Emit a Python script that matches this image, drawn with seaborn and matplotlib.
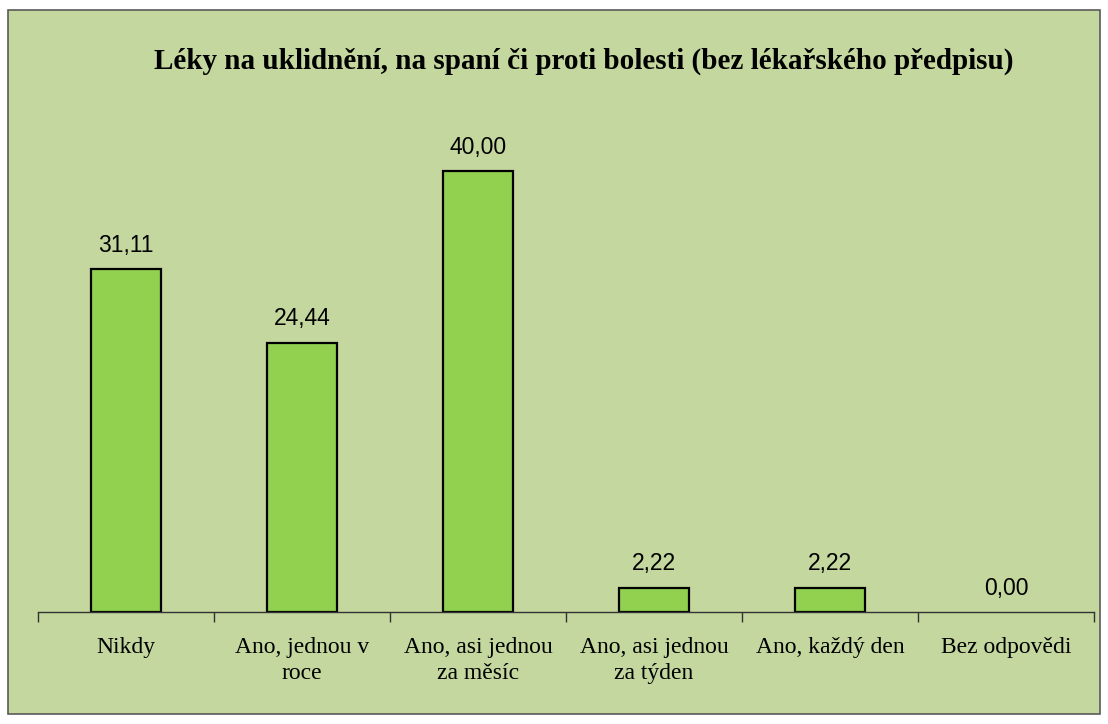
import matplotlib
matplotlib.use("Agg")
import matplotlib.pyplot as plt
import seaborn as sns
import pandas as pd
from matplotlib.patches import Rectangle

kategorie = ["Nikdy", "Ano, jednou v\nroce", "Ano, asi jednou\nza měsíc",
             "Ano, asi jednou\nza týden", "Ano, každý den", "Bez odpovědi"]
hodnoty = [31.11, 24.44, 40.00, 2.22, 2.22, 0.00]
titulek = "Léky na uklidnění, na spaní či proti bolesti (bez lékařského předpisu)"

df = pd.DataFrame({"kategorie": kategorie, "hodnota": hodnoty})

sns.set_style("white")
plt.rcParams["font.family"] = ["Liberation Serif", "DejaVu Serif"]
plt.rcParams["text.color"] = "black"
plt.rcParams["xtick.color"] = "black"

fig = plt.figure(figsize=(11.08, 7.24), dpi=100)
fig.patch.set_facecolor("white")

# pozadi grafu (jako v Excelu)
W, H = 1108, 724
fig.patches.append(Rectangle((8 / W, 10 / H), 1092 / W, 704 / H, transform=fig.transFigure,
                             facecolor="#C4D79E", edgecolor="#5a5a5a", linewidth=1.2, zorder=-1))

ax = fig.add_axes([38 / W, (H - 612) / H, 1056 / W, 496 / H])
ax.set_facecolor("none")

sns.barplot(data=df, x="kategorie", y="hodnota", color="#92D050", width=0.4,
            edgecolor="black", linewidth=1.6, saturation=1, ax=ax)

# nulovy sloupec neni videt
for p in ax.patches:
    if p.get_height() == 0:
        p.set_linewidth(0)

ax.set_ylim(0, 45)
ax.set_xlim(-0.5, len(kategorie) - 0.5)
for s in ["top", "right", "left"]:
    ax.spines[s].set_visible(False)
ax.spines["bottom"].set_color("#333333")
ax.spines["bottom"].set_linewidth(1.0)
ax.set_yticks([])
ax.set_xlabel("")
ax.set_ylabel("")

ax.set_xticks(range(len(kategorie)))
ax.set_xticklabels(kategorie, fontsize=17, linespacing=1.3, color="black")
ax.tick_params(axis="x", which="major", length=0, pad=18)
ax.set_xticks([i - 0.5 for i in range(len(kategorie) + 1)], minor=True)
ax.tick_params(axis="x", which="minor", bottom=True, length=7, direction="out",
               color="#333333", width=1.0)

popisky = [f"{v:.2f}".replace(".", ",") for v in hodnoty]
ax.bar_label(ax.containers[0], labels=popisky, padding=9, fontsize=16.5, color="black",
             family=["Liberation Sans", "DejaVu Sans"])

fig.text(584 / W, 1 - 61 / H, titulek, ha="center", va="center",
         fontsize=21, fontweight="bold", color="black")

fig.savefig("out.png", dpi=100, facecolor=fig.get_facecolor())
